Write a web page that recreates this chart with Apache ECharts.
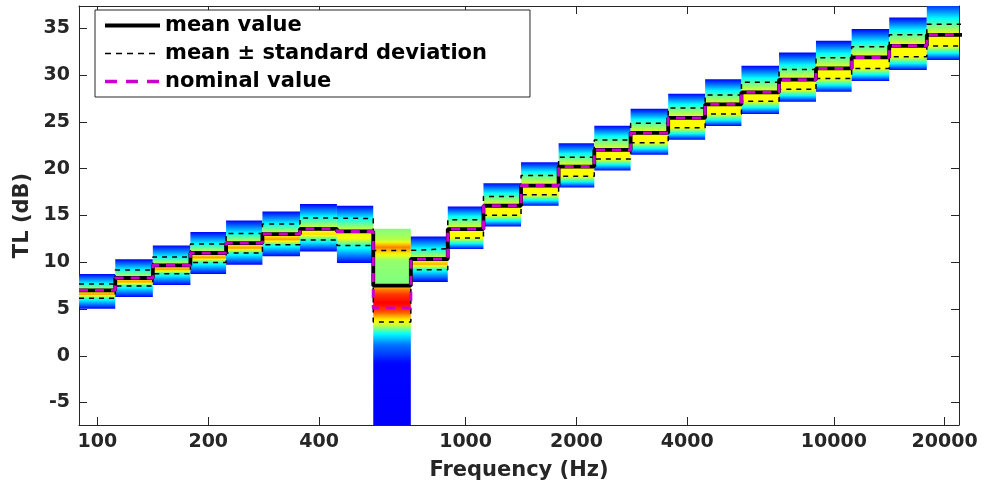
<!DOCTYPE html>
<html><head><meta charset="utf-8">
<script src="https://cdn.jsdelivr.net/npm/echarts@6/dist/echarts.min.js"></script>
<style>html,body{margin:0;padding:0;background:#fff}#c{width:989px;height:492px}</style>
</head><body><div id="c"></div>
<script>
// ---- data ----
const freqs = [100,125,160,200,250,315,400,500,630,800,1000,1250,1600,2000,2500,3150,4000,5000,6300,8000,10000,12500,16000,20000];
const boxTop    = [8.75,10.31,11.8,13.23,14.47,15.43,16.22,16.04,13.58,12.76,15.96,18.46,20.7,22.73,24.6,26.42,28.03,29.56,31.01,32.42,33.68,34.93,36.17,37.8];
const stdUp     = [7.68,9.17,10.56,11.95,13.08,14.08,14.72,14.68,11.27,11.45,14.54,17.03,19.27,21.23,23.08,24.86,26.5,27.88,29.24,30.62,31.86,33.04,34.32,35.46];
const meanVal   = [7.0,8.32,9.67,10.99,12.05,13.01,13.58,13.3,7.5,10.35,13.55,16.04,18.2,20.23,22.01,23.83,25.43,26.89,28.17,29.52,30.73,31.9,33.14,34.32];
const stdLow    = [6.14,7.47,8.78,9.98,10.99,11.87,12.37,11.8,3.62,9.2,12.59,15.04,17.21,19.2,21.05,22.79,24.39,25.85,27.21,28.49,29.66,30.73,31.97,33.11];
const boxBottom = [5.04,6.29,7.57,8.75,9.74,10.63,11.16,9.92,-9,7.9,11.41,13.83,16.04,17.99,19.8,21.5,23.1,24.57,25.85,27.17,28.23,29.38,30.55,31.62];
const nominal   = [7.0,8.32,9.67,10.99,12.05,13.01,13.58,13.3,5.1,10.35,13.55,16.04,18.2,20.23,22.01,23.83,25.43,26.89,28.17,29.52,30.73,31.9,33.14,34.32];
// colour-map level (jet, 0..1) of the density at: upper std, mean, mid(mean..lower std), lower std
const lvlUp   = [0.38,0.38,0.38,0.38,0.38,0.38,0.40,0.38,0,0.38,0.46,0.46,0.46,0.46,0.46,0.46,0.46,0.46,0.46,0.46,0.46,0.46,0.46,0.46];
const lvlMean = [0.60,0.60,0.60,0.60,0.60,0.60,0.60,0.60,0,0.60,0.62,0.62,0.62,0.62,0.62,0.62,0.62,0.62,0.62,0.62,0.62,0.62,0.62,0.62];
const lvlMid  = [0.72,0.72,0.72,0.72,0.72,0.72,0.66,0.62,0,0.70,0.625,0.625,0.625,0.625,0.625,0.625,0.625,0.625,0.625,0.625,0.625,0.625,0.625,0.625];
const lvlLow  = [0.42,0.42,0.42,0.42,0.42,0.42,0.42,0.42,0,0.40,0.625,0.625,0.625,0.625,0.625,0.625,0.625,0.625,0.625,0.625,0.625,0.625,0.625,0.625];
// explicit density profile of the 630 Hz band: [TL, level]
const profile630 = [[13.58,0.5],[12.3,0.56],[11.65,0.76],[10.9,0.63],[10.2,0.52],[7.7,0.5],[7.3,0.72],[6.6,0.82],[5.6,0.88],[4.7,0.8],[4.0,0.66],[3.2,0.56],[2.4,0.38],[1.2,0.24],[-0.8,0.13],[-9,0.12]];
const xTicks = [100,200,400,1000,2000,4000,10000,20000];
const yTicks = [-5,0,5,10,15,20,25,30,35];

// ---- helpers ----
const n = freqs.length;
const logF = freqs.map(f => Math.log10(f));
const lo = logF.map((v,i) => i === 0 ? v - 0.05 : (logF[i-1] + v) / 2);
const hi = logF.map((v,i) => i === n-1 ? v + 0.05 : (v + logF[i+1]) / 2);
function stepData(vals){ const d=[]; vals.forEach((v,i)=>{ d.push([lo[i],v]); d.push([hi[i],v]); }); return d; }
function jet(x){
  const c = v => Math.max(0, Math.min(1, v));
  const r = c(1.5 - Math.abs(4*x-3)), g = c(1.5 - Math.abs(4*x-2)), b = c(1.5 - Math.abs(4*x-1));
  return 'rgb(' + Math.round(r*255) + ',' + Math.round(g*255) + ',' + Math.round(b*255) + ')';
}
function bandProfile(i){
  if (freqs[i] === 630) return profile630;
  return [[boxTop[i],0.125],[stdUp[i],lvlUp[i]],[meanVal[i],lvlMean[i]],[(meanVal[i]+stdLow[i])/2,lvlMid[i]],[stdLow[i],lvlLow[i]],[boxBottom[i],0.125]];
}
function levelAt(p, v){
  if (v >= p[0][0]) return p[0][1];
  for (let k=1;k<p.length;k++){
    if (v >= p[k][0]){ const t=(p[k-1][0]-v)/(p[k-1][0]-p[k][0]); return p[k-1][1] + t*(p[k][1]-p[k-1][1]); }
  }
  return p[p.length-1][1];
}
function stops(i){
  const p = bandProfile(i), N = 80, s = [];
  for (let k=0;k<=N;k++){ const t=k/N; const v = boxTop[i] + t*(boxBottom[i]-boxTop[i]); s.push({offset:t, color: jet(levelAt(p,v))}); }
  return s;
}

const font = 'DejaVu Sans';
const axisCol = '#262626';
const magenta = '#cc00cc';
const chart = echarts.init(document.getElementById('c'), null, {renderer:'canvas'});
chart.setOption({
  animation:false,
  backgroundColor:'#fff',
  grid:{left:79, right:30, top:6, bottom:67},
  legend:{
    left:95, top:10, orient:'vertical', backgroundColor:'#fff', borderColor:axisCol, borderWidth:1, borderRadius:0,
    padding:[5,43,5,8], itemWidth:55, itemHeight:14, itemGap:7, selectedMode:false,
    itemStyle:{opacity:0},
    textStyle:{fontFamily:font, fontWeight:'bold', fontSize:21, color:'#000'},
    data:[
      {name:'mean value', lineStyle:{width:4, type:'solid', color:'#000'}},
      {name:'mean ± standard deviation', lineStyle:{width:1.5, type:[6,5], color:'#000'}},
      {name:'nominal value', lineStyle:{width:3.5, type:[12,9], color:magenta}}
    ]
  },
  xAxis:[{
    type:'value', min:Math.log10(100)-0.05, max:4.34, position:'bottom',
    axisLine:{show:true, onZero:false, lineStyle:{color:axisCol, width:1}},
    axisTick:{show:true, inside:true, length:8, customValues:xTicks.map(Math.log10), lineStyle:{color:axisCol}},
    axisLabel:{customValues:xTicks.map(Math.log10), formatter:v=>String(Math.round(Math.pow(10,v))), margin:8, fontFamily:font, fontWeight:'bold', fontSize:19, color:axisCol},
    splitLine:{show:false},
    name:'Frequency (Hz)', nameLocation:'middle', nameGap:35,
    nameTextStyle:{fontFamily:font, fontWeight:'bold', fontSize:21, color:axisCol}
  },{
    type:'value', min:Math.log10(100)-0.05, max:4.34, position:'top',
    axisLine:{show:true, onZero:false, lineStyle:{color:axisCol, width:1}},
    axisTick:{show:true, inside:true, length:8, customValues:xTicks.map(Math.log10), lineStyle:{color:axisCol}},
    axisLabel:{show:false}, splitLine:{show:false}
  }],
  yAxis:[{
    type:'value', min:-7.4, max:37.4, position:'left',
    axisLine:{show:true, onZero:false, lineStyle:{color:axisCol, width:1}},
    axisTick:{show:true, inside:true, length:8, customValues:yTicks, lineStyle:{color:axisCol}},
    axisLabel:{customValues:yTicks, margin:9, fontFamily:font, fontWeight:'bold', fontSize:19, color:axisCol},
    splitLine:{show:false},
    name:'TL (dB)', nameLocation:'middle', nameGap:46, nameRotate:90,
    nameTextStyle:{fontFamily:font, fontWeight:'bold', fontSize:21, color:axisCol}
  },{
    type:'value', min:-7.4, max:37.4, position:'right',
    axisLine:{show:true, onZero:false, lineStyle:{color:axisCol, width:1}},
    axisTick:{show:true, inside:true, length:8, customValues:yTicks, lineStyle:{color:axisCol}},
    axisLabel:{show:false}, splitLine:{show:false}
  }],
  series:[
    {
      type:'custom', name:'density', silent:true, z:1,
      data: freqs.map((f,i)=>[logF[i], meanVal[i], i]),
      encode:{x:0, y:1},
      renderItem:(params, api)=>{
        const i = api.value(2);
        const p1 = api.coord([lo[i], boxTop[i]]);
        const p2 = api.coord([hi[i], boxBottom[i]]);
        const cs = params.coordSys;
        const rect = echarts.graphic.clipRectByRect(
          {x:p1[0], y:p1[1], width:p2[0]-p1[0], height:p2[1]-p1[1]},
          {x:cs.x, y:cs.y, width:cs.width, height:cs.height});
        if (!rect) return;
        return {type:'rect', shape:rect,
          style:{fill:new echarts.graphic.LinearGradient(0, p1[1], 0, p2[1], stops(i), true)}};
      }
    },
    {type:'line', name:'mean ± standard deviation', data:stepData(stdUp), symbol:'none', silent:true, z:3,
      lineStyle:{color:'#000', width:1.5, type:[5,5]}, itemStyle:{color:'#000'}},
    {type:'line', name:'mean ± standard deviation', data:stepData(stdLow), symbol:'none', silent:true, z:3,
      lineStyle:{color:'#000', width:1.5, type:[5,5]}, itemStyle:{color:'#000'}},
    {type:'line', name:'mean value', data:stepData(meanVal), symbol:'none', silent:true, z:4,
      lineStyle:{color:'#000', width:3.8}, itemStyle:{color:'#000'}},
    {type:'line', name:'nominal value', data:stepData(nominal), symbol:'none', silent:true, z:5,
      lineStyle:{color:magenta, width:3, type:[9,7]}, itemStyle:{color:magenta}}
  ]
});
</script></body></html>
